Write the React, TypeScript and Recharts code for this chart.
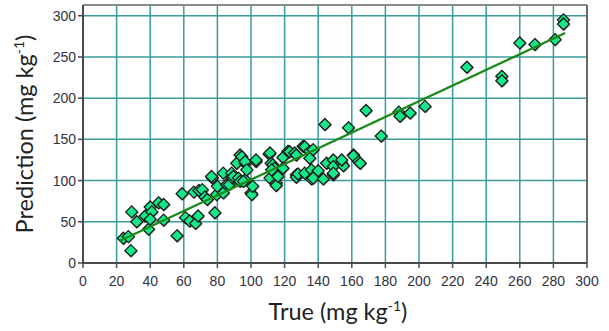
import React from 'react';
import { ScatterChart, Scatter, XAxis, YAxis, CartesianGrid, ReferenceLine } from 'recharts';

const trueValues = [
  24, 27, 28.5, 29, 32, 37, 39, 40, 41, 40, 45, 48, 48, 56, 59, 61, 63.5, 66, 69, 67,
  68.5, 71, 72.5, 74, 77, 76.5, 78.5, 79.5, 80, 83.5, 83.5, 85.5, 87, 88.5, 89, 89.5, 91.5, 92.5, 93.5, 93.5,
  94.5, 96.5, 96.5, 96.5, 97.5, 95.5, 100, 100.5, 101, 103, 103, 110.8, 111.3, 112, 113, 114, 111.3, 112.3, 115, 115,
  116, 119, 119, 122, 123, 126, 127, 127, 127, 128, 131, 132, 132, 135, 135, 136, 137, 136, 137, 140,
  143, 144, 145, 149, 149, 149, 149, 154, 155, 154, 158, 161, 161, 164, 165, 168.5, 177.5, 188, 188.7, 194.7,
  203.6, 228.5, 249.3, 249.3, 260, 269, 281, 286, 286,
];
const predValues = [
  30, 32, 15, 62, 50, 57, 41, 68, 62, 53, 73, 71, 52, 33, 84, 55, 51, 86, 88, 48,
  57, 89, 80, 77, 103, 105, 61, 83, 93, 109, 85, 95, 95, 109, 103, 105, 121, 103, 131, 99,
  129, 121, 123, 101, 113, 99, 85, 83, 93, 123, 125, 132, 133.5, 121, 119, 115, 103, 113, 97, 94,
  105, 128, 115, 135.5, 135, 133.5, 131, 107, 104, 108, 141.5, 141, 109, 135.5, 127, 113, 137.5, 102, 103, 112,
  102, 168, 121, 125, 117, 107, 109, 121, 118, 125, 164, 131, 130, 123, 121, 185, 154, 183, 178, 182,
  190, 237.5, 226.5, 221, 267, 265, 271, 295, 290,
];
const fitTrue = [22, 287];
const fitPred = [27, 279];
const xTicks = [0, 20, 40, 60, 80, 100, 120, 140, 160, 180, 200, 220, 240, 260, 280, 300];
const yTicks = [0, 50, 100, 150, 200, 250, 300];

const points = trueValues.map((t, i) => ({ x: t, y: predValues[i] }));
const fit = fitTrue.map((t, i) => ({ x: t, y: fitPred[i] }));

const Diamond = (props: any) => {
  const { cx, cy } = props;
  const r = 6;
  const pts = (dx: number) =>
    `${cx + dx},${cy - r + dx} ${cx + r + dx},${cy + dx} ${cx + dx},${cy + r + dx} ${cx - r + dx},${cy + dx}`;
  return (
    <g>
      <polygon points={pts(1)} fill="#444" opacity={0.45} />
      <polygon points={pts(0)} fill="#14e889" stroke="#1a1a1a" strokeWidth={1.3} />
    </g>
  );
};

const NoShape = () => <g />;

const titleFont = 'Lato, "Open Sans", sans-serif';

const XTitle = () => (
  <text x={338} y={320} textAnchor="middle" fontFamily={titleFont} fontSize={23.5} fill="#222">
    True (mg kg<tspan dy={-9} fontSize={14}>-1</tspan>
    <tspan dy={9}>)</tspan>
  </text>
);

const YTitle = () => (
  <text
    x={33}
    y={134}
    transform="rotate(-90, 33, 134)"
    textAnchor="middle"
    fontFamily={titleFont}
    fontSize={23.5}
    fill="#222"
  >
    Prediction (mg kg<tspan dy={-9} fontSize={14}>-1</tspan>
    <tspan dy={9}>)</tspan>
  </text>
);

const tickStyle = { fontSize: 14, fill: '#333340', fontFamily: '"Liberation Sans", Arial, sans-serif' };

export default function App() {
  return (
    <div style={{ position: 'absolute', left: 0, top: 0, width: 609, height: 331, background: '#fff' }}>
      <ScatterChart width={609} height={331} margin={{ top: 5, right: 22, bottom: 38, left: 0 }}>
        <CartesianGrid stroke="#3a9c9c" strokeWidth={1.5} horizontalValues={yTicks} verticalValues={xTicks} />
        <XAxis
          type="number"
          dataKey="x"
          domain={[0, 300]}
          ticks={xTicks}
          interval={0}
          height={30}
          tick={tickStyle}
          tickSize={5}
          tickMargin={8}
          axisLine={{ stroke: '#4a4a4a', strokeWidth: 2 }}
          tickLine={{ stroke: '#4a4a4a', strokeWidth: 1.5 }}
          label={<XTitle />}
        />
        <YAxis
          type="number"
          dataKey="y"
          domain={[0, 313]}
          ticks={yTicks}
          interval={0}
          width={83}
          tick={tickStyle}
          tickSize={5}
          tickMargin={2}
          axisLine={{ stroke: '#4a4a4a', strokeWidth: 2 }}
          tickLine={{ stroke: '#4a4a4a', strokeWidth: 1.5 }}
          label={<YTitle />}
        />
        <ReferenceLine y={313} stroke="#8a8a8a" strokeWidth={2} />
        <ReferenceLine x={300} stroke="#6a6a6a" strokeWidth={2} />
        <Scatter data={points} shape={<Diamond />} isAnimationActive={false} />
        <Scatter
          data={fit}
          shape={<NoShape />}
          line={{ stroke: '#188a18', strokeWidth: 2.2 }}
          isAnimationActive={false}
        />
      </ScatterChart>
    </div>
  );
}
